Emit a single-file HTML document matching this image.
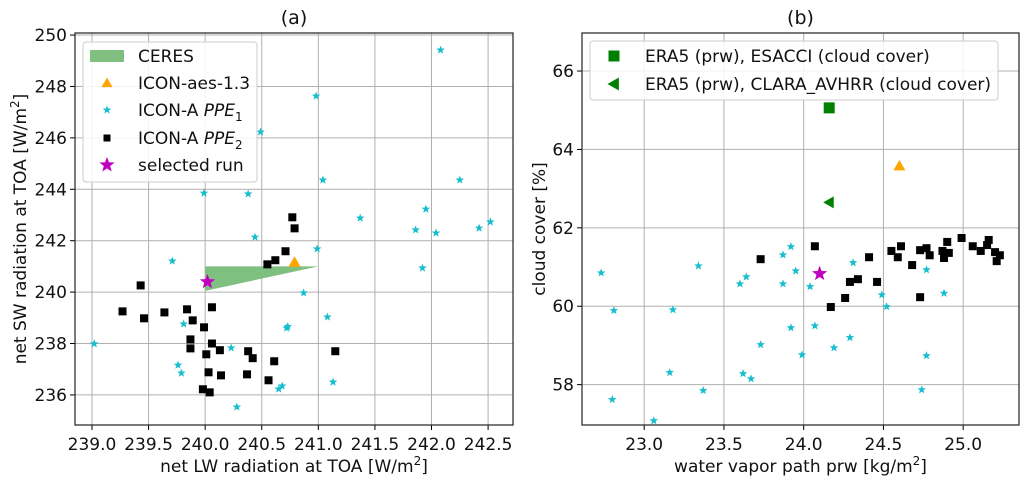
<!DOCTYPE html>
<html><head><meta charset="utf-8"><style>
html,body{margin:0;padding:0;background:#fff;}
svg{display:block;font-family:"DejaVu Sans","Liberation Sans",sans-serif;}
</style></head><body>
<svg id="fig" width="1030" height="485" viewBox="0 0 1030 485"></svg>
<script>
// ---- Panel (a) data ----
const aPPE1x=[239.99,240.38,241.04,240.44,240.99,239.71,240.87,241.08,239.81,240.72,240.73,239.02,240.23,239.76,239.79,240.65,240.68,240.28,241.13,240.49,240.98,242.08,242.25,241.37,241.95,241.86,242.04,242.42,242.52,241.92];
const aPPE1y=[243.85,243.82,244.36,242.14,241.68,241.21,239.97,239.03,238.76,238.60,238.66,237.99,237.83,237.16,236.85,236.23,236.35,235.53,236.50,246.23,247.63,249.42,244.36,242.88,243.23,242.42,242.30,242.49,242.73,240.94];
const aPPE2x=[239.43,239.27,239.46,239.64,239.84,239.89,239.99,240.06,239.87,239.87,240.06,240.01,240.13,240.38,240.42,240.61,240.03,240.14,240.37,240.56,239.98,240.04,240.55,240.62,240.71,240.77,240.79,241.15];
const aPPE2y=[240.26,239.25,238.98,239.21,239.33,238.90,238.63,239.41,238.16,237.81,238.00,237.58,237.74,237.70,237.43,237.31,236.88,236.76,236.80,236.57,236.22,236.10,241.08,241.24,241.59,242.91,242.48,237.70];
const aSelected=[240.02,240.40];
const aIcon=[240.79,241.16];
const aCeresX=[240.0,241.0,240.0];
const aCeresY=[241.0,241.0,240.05];
const aXTicks=[239.0,239.5,240.0,240.5,241.0,241.5,242.0,242.5];
const aYTicks=[236,238,240,242,244,246,248,250];
// ---- Panel (b) data ----
const bPPE1x=[22.73,22.81,22.80,23.06,23.16,23.18,23.34,23.37,23.60,23.62,23.64,23.67,23.73,23.87,23.87,23.92,23.92,23.95,23.99,24.04,24.07,24.19,24.29,24.31,24.49,24.52,24.74,24.77,24.77,24.88];
const bPPE1y=[60.85,59.89,57.62,57.08,58.31,59.91,61.03,57.85,60.57,58.28,60.75,58.15,59.02,61.31,60.57,59.45,61.52,60.90,58.76,60.50,59.50,58.94,59.20,61.11,60.29,59.99,57.87,60.93,58.74,60.33];
const bPPE2x=[23.73,24.07,24.17,24.26,24.29,24.34,24.41,24.46,24.55,24.59,24.61,24.68,24.73,24.73,24.77,24.79,24.87,24.88,24.90,24.91,24.99,25.06,25.11,25.15,25.16,25.20,25.23,25.21];
const bPPE2y=[61.20,61.53,59.98,60.21,60.62,60.69,61.25,60.62,61.41,61.25,61.53,61.05,61.43,60.23,61.48,61.30,61.41,61.23,61.64,61.36,61.74,61.53,61.41,61.56,61.69,61.38,61.30,61.15];
const bSelected=[24.10,60.83];
const bIcon=[24.60,63.58];
const bEsacci=[24.16,65.06];
const bClara=[24.16,62.65];
const bXTicks=[23.0,23.5,24.0,24.5,25.0];
const bYTicks=[58,60,62,64,66];

const NS="http://www.w3.org/2000/svg";
const svg=document.getElementById('fig');
function mk(tag,attrs,parent){const e=document.createElementNS(NS,tag);for(const k in attrs)e.setAttribute(k,attrs[k]);(parent||svg).appendChild(e);return e;}
function starPts(cx,cy,R){const r=R*0.42;let p=[];for(let i=0;i<10;i++){const a=-Math.PI/2+i*Math.PI/5;const rr=i%2?r:R;p.push((cx+rr*Math.cos(a)).toFixed(2)+","+(cy+rr*Math.sin(a)).toFixed(2));}return p.join(" ");}

function panel(o){
  const g=mk('g',{});
  
  
  const sx=v=>o.L+(v-o.x0)/(o.x1-o.x0)*o.W;
  const sy=v=>o.T+(o.y1-v)/(o.y1-o.y0)*o.H;
  // grid
  o.xt.forEach(t=>{const l=mk('line',{x1:sx(t),x2:sx(t),y1:o.T,y2:o.T+o.H,stroke:'#b0b0b0','stroke-width':1},g);
    const tk=mk('line',{x1:sx(t),x2:sx(t),y1:o.T+o.H,y2:o.T+o.H+5,stroke:'#000','stroke-width':1},g);
    const tx=mk('text',{x:sx(t),y:o.T+o.H+25,'text-anchor':'middle','font-size':17,fill:'#111'},g);tx.textContent=o.xf(t);});
  o.yt.forEach(t=>{const l=mk('line',{x1:o.L,x2:o.L+o.W,y1:sy(t),y2:sy(t),stroke:'#b0b0b0','stroke-width':1},g);
    mk('line',{x1:o.L-5,x2:o.L,y1:sy(t),y2:sy(t),stroke:'#000','stroke-width':1},g);
    const tx=mk('text',{x:o.L-8,y:sy(t)+6,'text-anchor':'end','font-size':17,fill:'#111'},g);tx.textContent=t;});
  o.draw(g,sx,sy);
  const fr=mk('rect',{x:o.L,y:o.T,width:o.W,height:o.H,fill:'none',stroke:'#222','stroke-width':1.2},g);
  
  const ti=mk('text',{x:o.L+o.W/2,y:24,'text-anchor':'middle','font-size':19,fill:'#111'},g);ti.textContent=o.title;
  
  const xl=mk('text',{x:o.L+o.W/2,y:472,'text-anchor':'middle','font-size':17,fill:'#111'},g);xl.innerHTML=o.xlab;
  
  const yl=mk('text',{x:0,y:0,'text-anchor':'middle','font-size':17,fill:'#111',transform:`translate(${o.ylx},${o.T+o.H/2}) rotate(-90)`},g);yl.innerHTML=o.ylab;
  
}
function sq(g,x,y,s,fill,name){const r=mk('rect',{x:x-s/2,y:y-s/2,width:s,height:s,fill:fill},g);return r;}
function st(g,x,y,R,fill,name){const p=mk('polygon',{points:starPts(x,y,R),fill:fill},g);return p;}
function tri(g,x,y,s,fill,name){const p=mk('polygon',{points:`${x},${y-s} ${x+s},${y+s*0.75} ${x-s},${y+s*0.75}`,fill:fill},g);return p;}
function ltri(g,x,y,s,fill,name){const p=mk('polygon',{points:`${x-s},${y} ${x+s*0.75},${y-s} ${x+s*0.75},${y+s}`,fill:fill},g);return p;}

panel({name:'panel-a',L:75,T:33,W:438,H:392,x0:238.85,x1:242.72,y0:234.83,y1:250.08,xt:aXTicks,yt:aYTicks,xf:t=>t.toFixed(1),
 title:'(a)',xlab:'net LW radiation at TOA [W/m<tspan dy="-7" font-size="12">2</tspan><tspan dy="7">]</tspan>',
 ylab:'net SW radiation at TOA [W/m<tspan dy="-7" font-size="12">2</tspan><tspan dy="7">]</tspan>',ylx:26,
 draw:(g,sx,sy)=>{
  const pts=aCeresX.map((x,i)=>sx(x)+','+sy(aCeresY[i])).join(' ');
  const c=mk('polygon',{points:pts,fill:'#7fbf7f'},g);
  aPPE1x.forEach((x,i)=>st(g,sx(x),sy(aPPE1y[i]),4.5,'#17becf','ppe1-point'));
  aPPE2x.forEach((x,i)=>sq(g,sx(x),sy(aPPE2y[i]),8,'#000','ppe2-point'));
  tri(g,sx(aIcon[0]),sy(aIcon[1]),6,'#ffa500','icon-aes-point');
  st(g,sx(aSelected[0]),sy(aSelected[1]),8,'#bf00bf','selected-run-point');
  // legend
  const lg=mk('g',{},g);
  mk('rect',{x:83,y:42,width:174,height:140,rx:3,fill:'#fff','fill-opacity':0.85,stroke:'#ccc'},lg);
  const rows=[['CERES',56],['ICON-aes-1.3',83],['ICON-A <tspan font-style="italic">PPE</tspan><tspan dy="5" font-size="12">1</tspan>',110],['ICON-A <tspan font-style="italic">PPE</tspan><tspan dy="5" font-size="12">2</tspan>',138],['selected run',165]];
  mk('rect',{x:90,y:50,width:34,height:12,fill:'#7fbf7f'},lg);
  tri(lg,107,83,5.5,'#ffa500','legend-icon-aes-marker');
  st(lg,107,110,4.5,'#17becf','legend-ppe1-marker');
  sq(lg,107,138,7,'#000','legend-ppe2-marker');
  st(lg,107,165,8,'#bf00bf','legend-selected-marker');
  rows.forEach(r=>{const t=mk('text',{x:138,y:r[1]+6,'font-size':17,fill:'#111'},lg);t.innerHTML=r[0];});
 }});

panel({name:'panel-b',L:582,T:33,W:437,H:392,x0:22.61,x1:25.35,y0:56.97,y1:66.97,xt:bXTicks,yt:bYTicks,xf:t=>t.toFixed(1),
 title:'(b)',xlab:'water vapor path prw [kg/m<tspan dy="-7" font-size="12">2</tspan><tspan dy="7">]</tspan>',
 ylab:'cloud cover [%]',ylx:545,
 draw:(g,sx,sy)=>{
  bPPE1x.forEach((x,i)=>st(g,sx(x),sy(bPPE1y[i]),4.5,'#17becf','ppe1-point'));
  bPPE2x.forEach((x,i)=>sq(g,sx(x),sy(bPPE2y[i]),8,'#000','ppe2-point'));
  st(g,sx(bSelected[0]),sy(bSelected[1]),8,'#bf00bf','selected-run-point');
  tri(g,sx(bIcon[0]),sy(bIcon[1]),6,'#ffa500','icon-aes-point');
  sq(g,sx(bEsacci[0]),sy(bEsacci[1]),11,'#008000','esacci-point');
  ltri(g,sx(bClara[0]),sy(bClara[1]),6,'#008000','clara-point');
  const lg=mk('g',{},g);
  mk('rect',{x:590,y:41,width:408,height:59,rx:3,fill:'#fff','fill-opacity':0.85,stroke:'#ccc'},lg);
  sq(lg,614,56,11,'#008000','legend-esacci-marker');
  ltri(lg,614,84,6.5,'#008000','legend-clara-marker');
  [['ERA5 (prw), ESACCI (cloud cover)',56],['ERA5 (prw), CLARA_AVHRR (cloud cover)',84]].forEach(r=>{const t=mk('text',{x:645,y:r[1]+6,'font-size':17,fill:'#111'},lg);t.textContent=r[0];});
 }});
</script>
</body></html>
